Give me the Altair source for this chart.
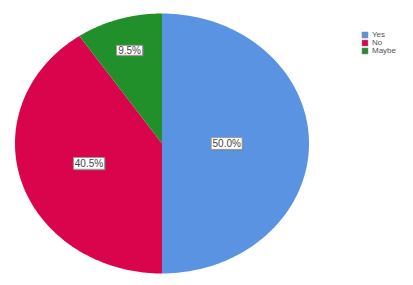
import altair as alt
import pandas as pd

categories = ["Yes", "No", "Maybe"]
percents = [50.0, 40.5, 9.5]
labels = ["50.0%", "40.5%", "9.5%"]
colors = ["#5a93e1", "#d9044c", "#21902a"]

df = pd.DataFrame({
    "category": categories,
    "pct": percents,
    "label": labels,
    "idx": list(range(len(categories))),
})

xscale = alt.Scale(domain=[-1, 1], range=[7, 301], nice=False, zero=False)
yscale = alt.Scale(domain=[-1, 1], range=[265.5, 5.5], nice=False, zero=False)

base = alt.Chart(df).transform_window(
    cum="sum(pct)", sort=[alt.SortField("idx")], frame=[None, 0]
).transform_calculate(
    a0="2*PI*(datum.cum - datum.pct)/100",
    a1="2*PI*datum.cum/100",
)

slices = base.transform_calculate(
    k="sequence(0, 121)"
).transform_flatten(["k"]).transform_calculate(
    ang="datum.a0 + (datum.a1 - datum.a0) * max(datum.k - 1, 0) / 119",
    px="datum.k == 0 ? 0 : sin(datum.ang)",
    py="datum.k == 0 ? 0 : cos(datum.ang)",
).mark_line(filled=True, interpolate="linear").encode(
    x=alt.X("px:Q", scale=xscale, axis=None),
    y=alt.Y("py:Q", scale=yscale, axis=None),
    color=alt.Color(
        "category:N",
        scale=alt.Scale(domain=categories, range=colors),
        sort=categories,
        legend=alt.Legend(
            orient="none", legendX=353, legendY=23, title=None,
            symbolType="square", symbolSize=36, labelFontSize=8,
            labelColor="#555555", labelFont="Liberation Sans",
            rowPadding=0, symbolStrokeColor="#888888",
            symbolStrokeWidth=0.5, padding=0, labelOffset=3,
        ),
    ),
    detail="category:N",
    order="k:Q",
)

lab = base.transform_calculate(
    mid="(datum.a0 + datum.a1)/2",
    r="datum.pct >= 50 ? 0.44 : (datum.pct >= 20 ? 0.52 : 0.75)",
    lx="datum.r*sin(datum.mid)",
    ly="datum.r*cos(datum.mid)",
    bs="length(datum.label) >= 5 ? 961 : 676",
)

box_path = "M-1,-0.38H1V0.38H-1Z"
pos = dict(
    x=alt.X("lx:Q", scale=xscale, axis=None),
    y=alt.Y("ly:Q", scale=yscale, axis=None),
)

shadow = lab.mark_point(
    shape=box_path, filled=True, fill="#7a7a7a", opacity=1,
    xOffset=1, yOffset=1, strokeWidth=0,
).encode(size=alt.Size("bs:Q", scale=None, legend=None), **pos)

box = lab.mark_point(
    shape=box_path, filled=True, fill="white", opacity=1,
    stroke="#999999", strokeWidth=1,
).encode(size=alt.Size("bs:Q", scale=None, legend=None), **pos)

text = lab.mark_text(
    font="Liberation Sans", fontSize=10,
    color="#444444", baseline="middle", dy=0.5,
).encode(text="label:N", **pos)

chart = alt.layer(slices, shadow, box, text).properties(
    width=397, height=269, padding=0, autosize="none"
).configure_view(stroke=None)

chart.save("out.html", embed_options={"renderer": "svg", "actions": False})
